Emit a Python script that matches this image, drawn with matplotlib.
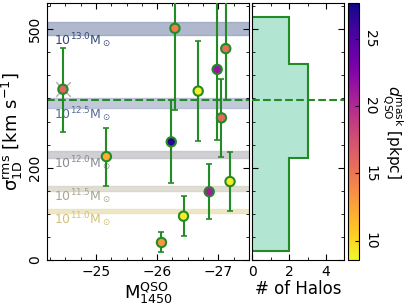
import numpy as np
import matplotlib
matplotlib.use("Agg")
import matplotlib.pyplot as plt
from matplotlib.ticker import FixedLocator, MultipleLocator


# ==========================================
# Data
# ==========================================

mag_1450 = [-24.46, -25.17, -26.07, -26.23, -26.29, -26.43,
            -26.67, -26.85, -26.98, -27.05, -27.12, -27.19]
sigma_rms = [370, 224, 38, 256, 502, 95, 366, 148, 413, 308, 458, 170]
sigma_low = [278, 161, 17, 166, 326, 52, 258, 88, 261, 224, 347, 107]
sigma_high = [460, 287, 61, 347, 640, 139, 474, 207, 640, 392, 640, 235]
d_mask = [16.2, 12.0, 13.2, 27.0, 14.6, 9.2, 9.2, 21.0, 21.5, 16.0, 15.6, 9.2]

# flagged object (grey cross)
flag_mag = [-24.46]
flag_sigma = [370]

# halo mass reference bands
halo_labels = ["13.0", "12.5", "12.0", "11.5", "11.0"]
halo_low = [487, 329, 222, 150, 102]
halo_high = [516, 350, 237, 160, 110]
halo_label_y = [476, 316, 209, 137, 87]
band_colors = ["#8e9bb8", "#a9b3ca", "#bdbdc3", "#d3d0c3", "#e9dfb0"]
label_colors = ["#34497a", "#56699a", "#8a8a96", "#a9a491", "#d1c07a"]

median_sigma = 346

# histogram of halos
hist_edges = [20, 121, 222, 323, 424, 526]
hist_counts = [2, 2, 3, 3, 2]

GREEN = "#238b23"


# ==========================================
# Figure
# ==========================================

plt.rcParams["font.size"] = 10
plt.rcParams["mathtext.default"] = "regular"

fig = plt.figure(figsize=(4.07, 3.07), dpi=100)
ax = fig.add_axes([0.1155, 0.153, 0.4963, 0.836])
ax_h = fig.add_axes([0.620, 0.153, 0.226, 0.836], sharey=ax)
cax = fig.add_axes([0.854, 0.153, 0.0285, 0.836])

# bands
for lo, hi, c in zip(halo_low, halo_high, band_colors):
    ax.axhspan(lo, hi, facecolor=c, alpha=0.7, edgecolor=c, lw=1.0, zorder=1)

for lab, y, c in zip(halo_labels, halo_label_y, label_colors):
    ax.text(-24.32, y, r"$10^{%s}\mathrm{M}_\odot$" % lab, color=c,
            fontsize=9, va="center", ha="left", zorder=2)

ax.axhline(median_sigma, color=GREEN, ls="--", lw=1.5, zorder=2)
ax_h.axhline(median_sigma, color=GREEN, ls="--", lw=1.5, zorder=3)

sig = np.array(sigma_rms)
yerr = [sig - np.array(sigma_low), np.array(sigma_high) - sig]
ax.errorbar(mag_1450, sigma_rms, yerr=yerr, fmt="none", ecolor=GREEN,
            elinewidth=1.5, capsize=2, capthick=1.2, zorder=3)

ax.scatter(flag_mag, flag_sigma, marker="x", s=110, color="#b0b0b0",
           lw=1.0, zorder=3)

sc = ax.scatter(mag_1450, sigma_rms, c=d_mask, cmap="plasma_r",
                vmin=8.56, vmax=27.65, s=45, edgecolors=GREEN,
                linewidths=1.5, zorder=4)

ax.set_xlim(-24.2, -27.5)
ax.set_ylim(0, 556)
ax.xaxis.set_major_locator(FixedLocator([-25, -26, -27]))
ax.xaxis.set_minor_locator(MultipleLocator(0.25))
ax.yaxis.set_major_locator(FixedLocator([0, 200, 500]))
ax.yaxis.set_minor_locator(MultipleLocator(50))
ax.tick_params(which="both", direction="in", top=True, right=True)
ax.tick_params(which="major", length=4)
ax.tick_params(which="minor", length=2)
for t in ax.get_yticklabels():
    t.set_rotation(90)
    t.set_va("center")

ax.set_xlabel(r"$\mathrm{M}_{1450}^{\mathrm{QSO}}$", fontsize=13, labelpad=1)
ax.set_ylabel(r"$\sigma_{\mathrm{1D}}^{\mathrm{rms}}$ [km s$^{-1}$]",
              fontsize=13, labelpad=2)

# histogram panel
ax_h.stairs(hist_counts, hist_edges, orientation="horizontal", baseline=0,
            fill=True, facecolor="#b2e5d2", edgecolor="none", zorder=1)
ax_h.stairs(hist_counts, hist_edges, orientation="horizontal", baseline=0,
            fill=False, edgecolor=GREEN, lw=1.5, zorder=2)
ax_h.set_xlim(0, 5)
ax_h.xaxis.set_major_locator(FixedLocator([0, 2, 4]))
ax_h.xaxis.set_minor_locator(MultipleLocator(1))
ax_h.tick_params(which="both", direction="in", top=True, right=True,
                 labelleft=False)
ax_h.tick_params(which="major", length=4)
ax_h.tick_params(which="minor", length=2)
ax_h.set_xlabel("# of Halos", fontsize=12, labelpad=1)

# colorbar
cb = fig.colorbar(sc, cax=cax)
cb.set_ticks([10, 15, 20, 25])
cb.ax.tick_params(direction="in", length=3, pad=3)
for t in cb.ax.get_yticklabels():
    t.set_rotation(-90)
    t.set_va("center")
cb.set_label(r"$\mathit{d}_{\mathrm{QSO}}^{\mathrm{mask}}$ [pkpc]",
             rotation=270, fontsize=11, labelpad=20)

fig.savefig("out.png", dpi=100)
